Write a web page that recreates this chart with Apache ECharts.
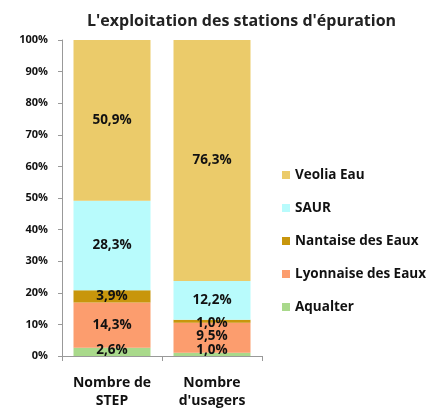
<!DOCTYPE html>
<html><head><meta charset="utf-8">
<script src="https://cdn.jsdelivr.net/npm/echarts@6/dist/echarts.min.js"></script>
<style>html,body{margin:0;padding:0;background:#fff}#c{width:433px;height:410px}</style>
</head><body><div id="c"></div>
<script>
const categories = ['Nombre de\nSTEP', "Nombre\nd'usagers"];
const seriesNames = ['Aqualter', 'Lyonnaise des Eaux', 'Nantaise des Eaux', 'SAUR', 'Veolia Eau'];
const aqualter = [2.6, 1.0];
const lyonnaise = [14.3, 9.5];
const nantaise = [3.9, 1.0];
const saur = [28.3, 12.2];
const veolia = [50.9, 76.3];
const yTicks = [0, 10, 20, 30, 40, 50, 60, 70, 80, 90, 100];
const colors = ['#A9D98B', '#FC9D6E', '#C8960C', '#B8FBFC', '#EBCB6A'];
const values = [aqualter, lyonnaise, nantaise, saur, veolia];
const labelOffsets = [[[0,-2],[0,-4]], [[0,0],[0,-2]], [[0,0],[0,2]], [[0,0],[0,0]], [[0,0],[0,0]]];
const FONT = 'Open Sans';
const chart = echarts.init(document.getElementById('c'));
chart.setOption({
  animation: false,
  textStyle: {fontFamily: FONT},
  title: {text: "L'exploitation des stations d'épuration", left: 82, top: 8,
    textStyle: {fontFamily: FONT, fontSize: 16, fontWeight: 'bold', color: '#222'}},
  grid: {left: 62, top: 40, width: 200, height: 323, containLabel: false},
  legend: {orient: 'vertical', left: 277, top: 163, itemWidth: 8, itemHeight: 8, itemGap: 19,
    icon: 'rect',
    data: seriesNames.slice().reverse(),
    textStyle: {fontFamily: FONT, fontSize: 13.5, fontWeight: 'bold', color: '#111', lineHeight: 14}},
  xAxis: {type: 'category', data: categories,
    axisLine: {lineStyle: {color: '#999'}},
    axisTick: {show: true, alignWithLabel: false, length: 5, lineStyle: {color: '#999'}},
    axisLabel: {interval: 0, hideOverlap: false, fontFamily: FONT, fontSize: 14, fontWeight: 'bold', color: '#111', lineHeight: 18, margin: 18}},
  yAxis: {type: 'value', min: 0, max: 100, interval: 10,
    splitLine: {show: false},
    axisLine: {show: true, lineStyle: {color: '#999'}},
    axisTick: {show: true, length: 4, lineStyle: {color: '#999'}},
    axisLabel: {fontFamily: FONT, fontSize: 11, fontWeight: 'bold', color: '#111', margin: 14,
      formatter: v => yTicks.includes(v) ? v + '%' : ''}},
  series: seriesNames.map((n, i) => ({
    name: n, type: 'bar', stack: 'a', barCategoryGap: '23%',
    itemStyle: {color: colors[i]},
    label: {show: true, position: 'inside', fontFamily: FONT, fontSize: 13.5, fontWeight: 'bold', color: '#111',
      formatter: p => p.value.toFixed(1).replace('.', ',') + '%'},
    data: values[i].map((v, j) => ({value: v, label: {offset: labelOffsets[i][j]}}))
  }))
});
</script></body></html>
